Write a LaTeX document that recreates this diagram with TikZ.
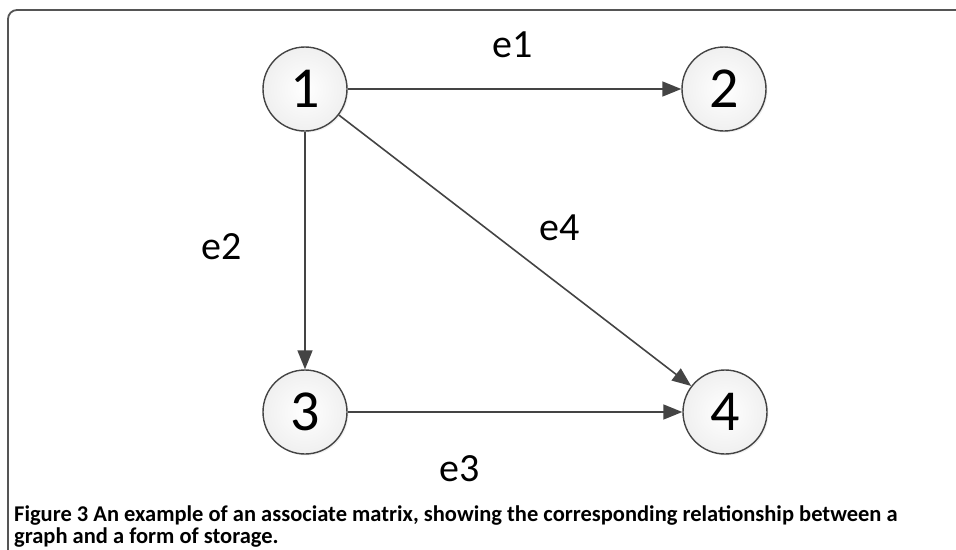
\documentclass[tikz,border=0pt]{standalone}
\usepackage{fontspec}
\setmainfont{Carlito}
\usetikzlibrary{arrows.meta,shadows}
\definecolor{edgegray}{HTML}{444444}
\definecolor{framegray}{HTML}{555555}
\begin{document}
\begin{tikzpicture}[x=1pt, y=-1pt,
    vertex/.style={circle, draw=edgegray, line width=1.4pt, minimum size=84pt,
      inner sep=0pt, shading=radial, inner color=white, outer color=gray!12,
      drop shadow={opacity=0.12, shadow xshift=1.5pt, shadow yshift=-1.5pt},
      font=\fontsize{58}{60}\selectfont},
    edge/.style={draw=edgegray, line width=1.6pt,
      -{Triangle[length=19pt, width=15pt]}},
    elabel/.style={font=\fontsize{40}{44}\selectfont}]

    \useasboundingbox (0,0) rectangle (956,549);

    % frame round the figure
    \draw[framegray, line width=1.8pt, rounded corners=9pt]
      (8,560) -- (8,10) -- (970,10);

    \node[vertex] (v1) at (305,89) {1};
    \node[vertex] (v2) at (724,89) {2};
    \node[vertex] (v3) at (305,412) {3};
    \node[vertex] (v4) at (725,412) {4};

    \draw[edge] (v1) -- (v2);
    \draw[edge] (v1) -- (v3);
    \draw[edge] (v3) -- (v4);
    \draw[edge] (v1) -- (v4);

    \node[elabel] (l1) at (513,45) {e1};
    \node[elabel] (l2) at (222,247) {e2};
    \node[elabel] (l4) at (560,228) {e4};
    \node[elabel] (l3) at (460,469) {e3};

    % caption, last line sits on the base anchor
    \node[anchor=base west, align=left, inner sep=0pt,
      font=\fontsize{22.5}{22}\selectfont\bfseries] (cap) at (14,543)
      {Figure 3 An example of an associate matrix, showing the corresponding relationship between a\\
       graph and a form of storage.};

  \end{tikzpicture}
\end{document}
